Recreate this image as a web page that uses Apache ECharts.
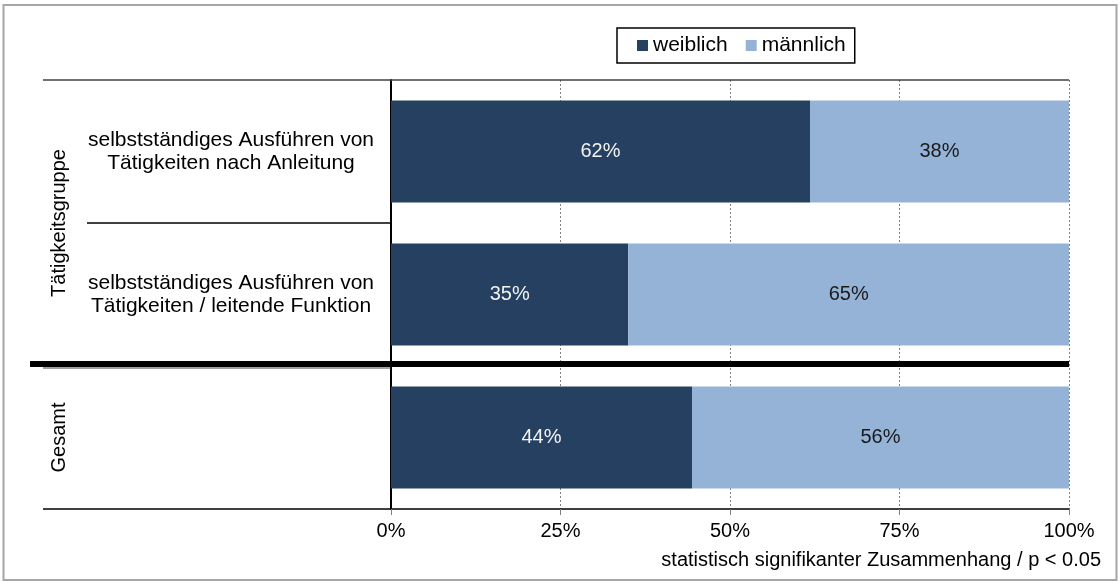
<!DOCTYPE html>
<html>
<head>
<meta charset="utf-8">
<script src="https://cdn.jsdelivr.net/npm/echarts@6/dist/echarts.min.js"></script>
<style>
html,body{margin:0;padding:0;background:#fff;}
#main{width:1120px;height:582px;}
</style>
</head>
<body>
<div id="main"></div>
<script>
// ---- data ----
var categories = [
  'selbstständiges Ausführen von\nTätigkeiten nach Anleitung',
  'selbstständiges Ausführen von\nTätigkeiten / leitende Funktion',
  ''
];
var groupLabels = ['Tätigkeitsgruppe', 'Gesamt'];
var seriesNames = ['weiblich', 'männlich'];
var weiblich = [61.8, 35.0, 44.4];
var maennlich = [38.2, 65.0, 55.6];
var xTicks = [0, 25, 50, 75, 100];
var footnote = 'statistisch signifikanter Zusammenhang / p < 0.05';

var FONT = '"Liberation Sans", Arial, sans-serif';
var chart = echarts.init(document.getElementById('main'), null, {renderer: 'canvas'});

var option = {
  animation: false,
  textStyle: {fontFamily: FONT},
  grid: {left: 391, right: 51, top: 80, bottom: 73, containLabel: false},
  legend: {
    data: seriesNames,
    left: 617, top: 28,
    padding: [7, 9, 7, 20],
    borderColor: '#000', borderWidth: 1.5,
    itemWidth: 11, itemHeight: 11, itemGap: 18,
    icon: 'rect',
    textStyle: {fontFamily: FONT, fontSize: 21, color: '#000'}
  },
  xAxis: {
    type: 'value', min: xTicks[0], max: xTicks[xTicks.length - 1], interval: 25,
    axisLine: {show: true, lineStyle: {color: '#000', width: 1.5}},
    axisTick: {show: true, length: 6, lineStyle: {color: '#808080', width: 1}},
    axisLabel: {formatter: '{value}%', fontSize: 20, color: '#000', margin: 12, fontFamily: FONT},
    splitLine: {show: true, lineStyle: {color: '#808080', type: [2, 2], width: 1}}
  },
  yAxis: {
    type: 'category', data: categories, inverse: true,
    axisLine: {show: true, lineStyle: {color: '#000', width: 2}},
    axisTick: {show: false},
    axisLabel: {align: 'center', margin: 160, fontSize: 21, lineHeight: 23, color: '#000', fontFamily: FONT}
  },
  series: [
    {
      name: seriesNames[0], type: 'bar', stack: 'total', data: weiblich, barWidth: '71.4%',
      itemStyle: {color: '#254061'},
      label: {show: true, position: 'inside', color: '#f2f2f2', fontSize: 20, fontFamily: FONT,
        formatter: function (p) { return Math.round(p.value) + '%'; }}
    },
    {
      name: seriesNames[1], type: 'bar', stack: 'total', data: maennlich, barWidth: '71.4%',
      itemStyle: {color: '#95b3d7'},
      label: {show: true, position: 'inside', color: '#1a1a1a', fontSize: 20, fontFamily: FONT,
        formatter: function (p) { return Math.round(p.value) + '%'; }}
    }
  ]
};
chart.setOption(option);

// decorations positioned from the axes
var yc = function (i) { return chart.convertToPixel({yAxisIndex: 0}, i); };
var half = (yc(1) - yc(0)) / 2;
var topY = yc(0) - half;
var b1 = yc(0) + half;
var b2 = yc(1) + half;
var botY = yc(2) + half;
var x0 = chart.convertToPixel({xAxisIndex: 0}, 0);
var x100 = chart.convertToPixel({xAxisIndex: 0}, 100);

function hline(x1, x2, y, color, w) {
  return {type: 'line', shape: {x1: x1, y1: y, x2: x2, y2: y}, style: {stroke: color, lineWidth: w}, z: 50};
}

chart.setOption({
  graphic: [
    {type: 'rect', shape: {x: 3.5, y: 5, width: 1113, height: 575}, style: {fill: 'none', stroke: '#a6a6a6', lineWidth: 2}, z: 1},
    hline(43, x100, topY, '#404040', 1.5),
    hline(87, x0, b1, '#000', 1.5),
    hline(43, x0, b2 + 2, '#404040', 1),
    hline(30, x100, b2 - 2, '#000', 6),
    hline(43, x0, botY, '#000', 1.5),
    {type: 'text', x: 59, y: (topY + b2) / 2, rotation: Math.PI / 2, z: 50,
      style: {text: groupLabels[0], fontSize: 20, fontFamily: FONT, fill: '#000', textAlign: 'center', textVerticalAlign: 'middle'}},
    {type: 'text', x: 59, y: (b2 + botY) / 2, rotation: Math.PI / 2, z: 50,
      style: {text: groupLabels[1], fontSize: 20, fontFamily: FONT, fill: '#000', textAlign: 'center', textVerticalAlign: 'middle'}},
    {type: 'text', x: 1101, y: 560, z: 50,
      style: {text: footnote, fontSize: 20, fontFamily: FONT, fill: '#000', textAlign: 'right', textVerticalAlign: 'middle'}}
  ]
});
</script>
</body>
</html>
